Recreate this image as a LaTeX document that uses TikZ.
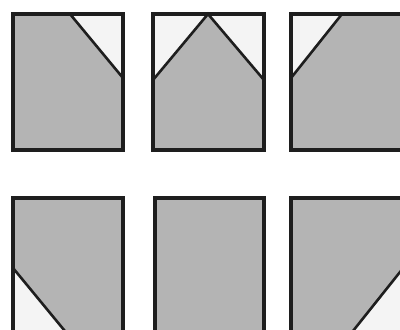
\documentclass[tikz,border=0pt]{standalone}
\usepackage{tikz}
\definecolor{panelgray}{RGB}{180,180,180}
\definecolor{panellight}{RGB}{244,244,244}
\definecolor{edge}{RGB}{30,30,30}
\begin{document}
\begin{tikzpicture}[x=1pt,y=-1pt,
  shade/.style={fill=panelgray},
  light/.style={fill=panellight},
  frame/.style={draw=edge,line width=3.2pt,line join=miter},
  cut/.style={draw=edge,line width=2.6pt}]
\useasboundingbox (0,0) rectangle (400,330);
\clip (0,0) rectangle (400,330);
\fill[white] (0,0) rectangle (400,330);
% Panel 1
\coordinate (a1) at (70,14);
\coordinate (b1) at (123,78);
\fill[shade] (13,14) rectangle (123,150);
\fill[light] (a1) -- (123,14) -- (b1) -- cycle;
\draw[cut] (a1) -- (b1);
\draw[frame] (13,14) rectangle (123,150);
% Panel 2
\coordinate (a2) at (208,14);
\coordinate (l2) at (153,80);
\coordinate (r2) at (264,80);
\fill[shade] (153,14) rectangle (264,150);
\fill[light] (153,14) -- (a2) -- (l2) -- cycle;
\fill[light] (a2) -- (264,14) -- (r2) -- cycle;
\draw[cut] (l2) -- (a2) -- (r2);
\draw[frame] (153,14) rectangle (264,150);
% Panel 3
\coordinate (a3) at (342,14);
\coordinate (b3) at (291,78);
\fill[shade] (291,14) rectangle (404,150);
\fill[light] (291,14) -- (a3) -- (b3) -- cycle;
\draw[cut] (a3) -- (b3);
\draw[frame] (291,14) rectangle (404,150);
% Panel 4
\coordinate (a4) at (13,268);
\coordinate (b4) at (69,336);
\fill[shade] (13,198) rectangle (123,345);
\fill[light] (a4) -- (b4) -- (13,336) -- cycle;
\draw[cut] (a4) -- (b4);
\draw[frame] (13,198) rectangle (123,345);
% Panel 5
\fill[shade] (155,198) rectangle (264,345);
\draw[frame] (155,198) rectangle (264,345);
% Panel 6
\coordinate (a6) at (404,267);
\coordinate (b6) at (349,336);
\fill[shade] (291,198) rectangle (404,345);
\fill[light] (a6) -- (b6) -- (404,336) -- cycle;
\draw[cut] (a6) -- (b6);
\draw[frame] (291,198) rectangle (404,345);
\end{tikzpicture}
\end{document}
